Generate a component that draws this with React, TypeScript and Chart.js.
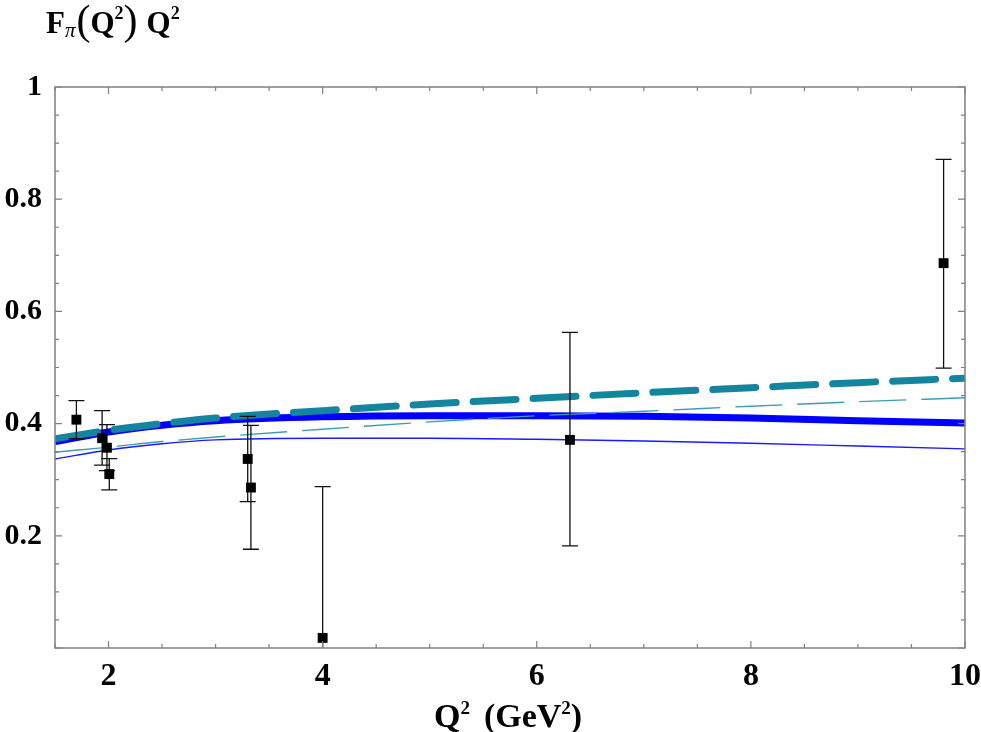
import React, { useEffect, useRef } from "react";
import { Chart, registerables } from "chart.js";

Chart.register(...registerables);

// Q^2 grid used for the theory curves
const curveQ2 = [1.5, 2, 2.5, 3, 4, 5, 6, 7, 8, 9, 10];
const thickBlue = [0.368, 0.385, 0.397, 0.405, 0.412, 0.414, 0.414, 0.413, 0.41, 0.405, 0.401];
const thinBlue = [0.337, 0.353, 0.364, 0.371, 0.374, 0.374, 0.372, 0.369, 0.365, 0.36, 0.355];
const thickTeal = [0.373, 0.388, 0.4, 0.41, 0.423, 0.435, 0.445, 0.455, 0.464, 0.473, 0.481];
const thinTeal = [0.349, 0.358, 0.368, 0.376, 0.39, 0.403, 0.414, 0.422, 0.431, 0.439, 0.446];

// experimental points with error bars
const dataQ2 = [1.7, 1.94, 1.985, 2.007, 3.3, 3.33, 4.0, 6.31, 9.8];
const dataF = [0.407, 0.374, 0.357, 0.31, 0.337, 0.286, 0.018, 0.371, 0.686];
const errLow = [0.373, 0.326, 0.316, 0.282, 0.261, 0.176, -0.25, 0.182, 0.499];
const errHigh = [0.441, 0.423, 0.398, 0.3375, 0.413, 0.397, 0.2875, 0.5625, 0.871];

const xTicks = [2, 4, 6, 8, 10];
const yTicks = [0.2, 0.4, 0.6, 0.8, 1];

const SERIF = "'Liberation Serif', 'Times New Roman', serif";

const pairs = (xs: number[], ys: number[]) => xs.map((x, i) => ({ x, y: ys[i] }));

// error bars, drawn after the curves but under the markers
const errorBars = {
  id: "errorBars",
  afterDatasetDraw(chart: any, args: any) {
    if (args.index !== 1) return;
    const { ctx, chartArea, scales } = chart;
    ctx.save();
    ctx.beginPath();
    ctx.rect(chartArea.left, chartArea.top, chartArea.right - chartArea.left, chartArea.bottom - chartArea.top);
    ctx.clip();
    ctx.strokeStyle = "#111";
    ctx.lineWidth = 1.3;
    dataQ2.forEach((q, i) => {
      const x = scales.x.getPixelForValue(q);
      const y1 = scales.y.getPixelForValue(errLow[i]);
      const y2 = scales.y.getPixelForValue(errHigh[i]);
      ctx.beginPath();
      ctx.moveTo(x, y1);
      ctx.lineTo(x, y2);
      ctx.moveTo(x - 8, y1);
      ctx.lineTo(x + 8, y1);
      ctx.moveTo(x - 8, y2);
      ctx.lineTo(x + 8, y2);
      ctx.stroke();
    });
    ctx.restore();
  },
};

// draw a run of text pieces left to right: [text, font, dy, extraGapAfter]
function drawRun(ctx: any, x: number, base: number, pieces: [string, string, number, number][]) {
  pieces.forEach(([t, f, dy, gap]) => {
    ctx.font = f;
    ctx.fillText(t, x, base + dy);
    x += ctx.measureText(t).width + gap;
  });
  return x;
}

// frame with inward ticks on all four sides, plus titles
const frame = {
  id: "frame",
  afterDraw(chart: any) {
    const { ctx, chartArea: a, scales } = chart;
    ctx.save();
    ctx.strokeStyle = "#808080";
    ctx.lineWidth = 1.5;
    ctx.strokeRect(a.left, a.top, a.right - a.left, a.bottom - a.top);
    ctx.lineWidth = 1.2;
    ctx.beginPath();
    for (let v = 1.5; v <= 10.001; v += 0.5) {
      const x = scales.x.getPixelForValue(v);
      const len = Math.abs(v % 2) < 1e-6 ? 7 : 4;
      ctx.moveTo(x, a.bottom);
      ctx.lineTo(x, a.bottom - len);
      ctx.moveTo(x, a.top);
      ctx.lineTo(x, a.top + len);
    }
    for (let k = 0; k <= 20; k++) {
      const v = k * 0.05;
      const y = scales.y.getPixelForValue(v);
      const len = k % 4 === 0 ? 7 : 4;
      ctx.moveTo(a.left, y);
      ctx.lineTo(a.left + len, y);
      ctx.moveTo(a.right, y);
      ctx.lineTo(a.right - len, y);
    }
    ctx.stroke();

    ctx.fillStyle = "#000";
    ctx.textBaseline = "alphabetic";
    ctx.textAlign = "left";

    // y title: F_pi(Q^2) Q^2
    const bold = `bold 31px ${SERIF}`;
    const sup = `bold 18px ${SERIF}`;
    const paren = `42px ${SERIF}`;
    const pi = `italic 21px ${SERIF}`;
    drawRun(ctx, 46, 33, [
      ["F", bold, 0, 0],
      ["π", pi, 4, 1],
      ["(", paren, 1, 0],
      ["Q", bold, 0, 0],
      ["2", sup, -14, 0],
      [")", paren, 1, 9],
      ["Q", bold, 0, 0],
      ["2", sup, -14, 0],
    ]);

    // x title: Q^2  (GeV^2)
    const big = `bold 34px ${SERIF}`;
    const small = `bold 19px ${SERIF}`;
    drawRun(ctx, 434, 727, [
      ["Q", big, 0, 0],
      ["2", small, -13, 14],
      ["(GeV", big, 0, 0],
      ["2", small, -13, 0],
      [")", big, 0, 0],
    ]);
    ctx.restore();
  },
};

export default function App() {
  const canvasRef = useRef<HTMLCanvasElement | null>(null);
  const chartRef = useRef<Chart | null>(null);

  useEffect(() => {
    if (!canvasRef.current) return;
    const ctx = canvasRef.current.getContext("2d");
    if (!ctx) return;
    if (chartRef.current) chartRef.current.destroy();

    chartRef.current = new Chart(ctx, {
      type: "scatter",
      data: {
        datasets: [
          {
            label: "data",
            data: pairs(dataQ2, dataF),
            pointStyle: "rect",
            pointRadius: 7,
            backgroundColor: "#000",
            borderColor: "#000",
            borderWidth: 0,
            showLine: false,
          },
          {
            label: "thin teal",
            data: pairs(curveQ2, thinTeal),
            showLine: true,
            borderColor: "#3b9cb3",
            borderWidth: 1.4,
            borderDash: [47, 15],
            pointRadius: 0,
            cubicInterpolationMode: "monotone",
          },
          {
            label: "thin blue",
            data: pairs(curveQ2, thinBlue),
            showLine: true,
            borderColor: "#1a1aff",
            borderWidth: 1.4,
            pointRadius: 0,
            cubicInterpolationMode: "monotone",
          },
          {
            label: "thick teal",
            data: pairs(curveQ2, thickTeal),
            showLine: true,
            borderColor: "#14849f",
            borderWidth: 7,
            borderDash: [43, 17],
            borderCapStyle: "round",
            pointRadius: 0,
            cubicInterpolationMode: "monotone",
          },
          {
            label: "thick blue",
            data: pairs(curveQ2, thickBlue),
            showLine: true,
            borderColor: "#0000ff",
            borderWidth: 7,
            pointRadius: 0,
            cubicInterpolationMode: "monotone",
          },
        ],
      } as any,
      options: {
        animation: false,
        responsive: false,
        layout: { padding: { top: 87, right: 16, left: 0, bottom: 0 } },
        plugins: {
          legend: { display: false },
          tooltip: { enabled: false },
        },
        scales: {
          x: {
            type: "linear",
            min: 1.5,
            max: 10,
            grid: { display: false, drawTicks: false },
            border: { display: false },
            afterBuildTicks: (s: any) => {
              s.ticks = xTicks.map((v) => ({ value: v }));
            },
            afterFit: (s: any) => {
              s.height = 84;
              s.paddingLeft = 0;
              s.paddingRight = 0;
            },
            ticks: {
              padding: 10,
              color: "#000",
              maxRotation: 0,
              font: { family: SERIF, size: 32, weight: "bold" },
              callback: (v: any) => String(v),
            },
          },
          y: {
            type: "linear",
            min: 0,
            max: 1,
            grid: { display: false, drawTicks: false },
            border: { display: false },
            afterBuildTicks: (s: any) => {
              s.ticks = yTicks.map((v) => ({ value: v }));
            },
            afterFit: (s: any) => {
              s.width = 55;
              s.paddingTop = 0;
              s.paddingBottom = 0;
            },
            ticks: {
              padding: 13,
              color: "#000",
              font: { family: SERIF, size: 30, weight: "bold" },
              callback: (v: any) => (v === 1 ? "1" : Number(v).toFixed(1)),
            },
          },
        },
      } as any,
      plugins: [errorBars, frame],
    });

    return () => {
      if (chartRef.current) {
        chartRef.current.destroy();
        chartRef.current = null;
      }
    };
  }, []);

  return (
    <div style={{ position: "fixed", left: 0, top: 0, width: 981, height: 732, background: "#fff" }}>
      <canvas ref={canvasRef} width={981} height={732} />
    </div>
  );
}
